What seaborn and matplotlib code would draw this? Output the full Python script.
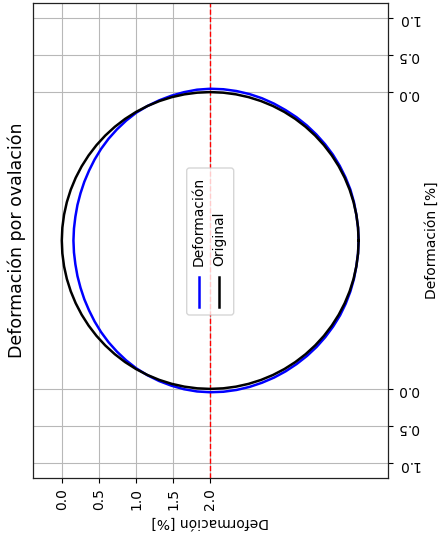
import numpy as np
import pandas as pd
import matplotlib
matplotlib.use("Agg")
import matplotlib.pyplot as plt
import matplotlib.transforms as mtransforms
from matplotlib.patches import FancyBboxPatch
from matplotlib.lines import Line2D
import seaborn as sns

# Deformación radial medida cada 5° alrededor de la sección (mismas unidades que el radio)
angulos_deg = list(range(0, 360, 5))
deformacion = [
    0.000, 0.000, 0.000, 0.005, 0.010, 0.012, 0.015, 0.018, 0.020, 0.022, 0.025, 0.028,
    0.030, 0.035, 0.040, 0.043, 0.045, 0.046, 0.045, 0.040, 0.030, 0.020, 0.010, 0.000,
    -0.010, -0.027, -0.045, -0.062, -0.080, -0.098, -0.115, -0.128, -0.140, -0.148, -0.155, -0.157,
    -0.157, -0.157, -0.155, -0.148, -0.140, -0.128, -0.115, -0.098, -0.080, -0.062, -0.045, -0.027,
    -0.010, 0.003, 0.015, 0.025, 0.035, 0.042, 0.045, 0.046, 0.045, 0.043, 0.040, 0.038,
    0.035, 0.032, 0.030, 0.028, 0.025, 0.022, 0.020, 0.015, 0.010, 0.005, 0.000, 0.000,
]
radio_original = 2.0
centro = (2.0, 0.0)

ticks_x = [0.0, 0.5, 1.0, 1.5, 2.0]
etiquetas_x = ["0.0", "0.5", "1.0", "1.5", "2.0"]
ticks_y = [3.0, 2.5, 2.0, -2.0, -2.5, -3.0]
etiquetas_y = ["1.0", "0.5", "0.0", "0.0", "0.5", "1.0"]

titulo = "Deformación por ovalación"
etiqueta_eje = "Deformación [%]"
series = ["Deformación", "Original"]
colores = ["blue", "black"]

# Contornos cerrados (deformado y original) en coordenadas cartesianas
theta = np.deg2rad(np.array(angulos_deg + angulos_deg[:1], dtype=float))
r_def = radio_original + np.array(deformacion + deformacion[:1])
r_ori = np.full_like(theta, radio_original)
df = pd.concat([
    pd.DataFrame({"x": centro[0] + r_def * np.cos(theta),
                  "y": centro[1] + r_def * np.sin(theta), "serie": series[0]}),
    pd.DataFrame({"x": centro[0] + r_ori * np.cos(theta),
                  "y": centro[1] + r_ori * np.sin(theta), "serie": series[1]}),
])

W, H, DPI = 439, 542, 100
fig = plt.figure(figsize=(W / DPI, H / DPI), dpi=DPI)
ax_l, ax_r, ax_t, ax_b = 32.7, 387.7, 3.0, 478.0
ax = fig.add_axes([ax_l / W, 1 - ax_b / H, (ax_r - ax_l) / W, (ax_b - ax_t) / H])

ax.grid(True, color="#b8b8b8", linewidth=0.8, zorder=0)
ax.set_axisbelow(True)

for nombre, color in zip(series, colores):
    sns.lineplot(data=df[df["serie"] == nombre], x="x", y="y", sort=False,
                 estimator=None, color=color, linewidth=1.8, ax=ax, legend=False)

ax.axvline(centro[0], color="red", linestyle="--", linewidth=1.0, zorder=1.5)

# Escala igual en ambos ejes, centrada en el contorno
escala = (ax_r - ax_l) / 4.784
semi_x = (ax_r - ax_l) / escala / 2
semi_y = (ax_b - ax_t) / escala / 2
ax.set_xlim(centro[0] - semi_x, centro[0] + semi_x)
ax.set_ylim(centro[1] - semi_y, centro[1] + semi_y)

ax.set_xticks(ticks_x)
ax.set_xticklabels(etiquetas_x)
ax.set_yticks(ticks_y)
ax.set_yticklabels(etiquetas_y)
ax.yaxis.tick_right()
ax.yaxis.set_label_position("right")
ax.tick_params(axis="x", labelrotation=90, labelsize=10)
ax.tick_params(axis="y", labelrotation=180, labelsize=10)
ax.set_xlabel(etiqueta_eje, rotation=180, fontsize=10)
ax.set_ylabel(etiqueta_eje, rotation=90, fontsize=10)
for s in ax.spines.values():
    s.set_linewidth(0.9)
    s.set_color("#222222")

ax.annotate(titulo, xy=(0, 0.5), xycoords="axes fraction", xytext=(-5, 0),
            textcoords="offset points", rotation=90, ha="right", va="center",
            fontsize=12.5)

# Leyenda girada, centrada en los ejes (coordenadas en píxeles respecto al centro)
cx_px = (ax_l + ax_r) / 2
cy_px = H - (ax_t + ax_b) / 2
tr = mtransforms.Affine2D().translate(cx_px, cy_px).scale(1 / DPI) + fig.dpi_scale_trans
caja = FancyBboxPatch((-23.5, -74.5), 47, 147,
                      boxstyle="round,pad=0,rounding_size=2.8",
                      transform=tr, facecolor="white", edgecolor="#cccccc",
                      alpha=0.8, linewidth=1.0, zorder=5)
fig.add_artist(caja)
for nombre, color, xc in zip(series, colores, [-11.5, 9.0]):
    fig.add_artist(Line2D([xc, xc], [-66, -36], color=color, linewidth=1.8,
                          transform=tr, zorder=6))
    fig.text(xc, -25, nombre, rotation=90, ha="center", va="bottom",
             fontsize=10, transform=tr, zorder=6)

fig.savefig("out.png", dpi=DPI)
